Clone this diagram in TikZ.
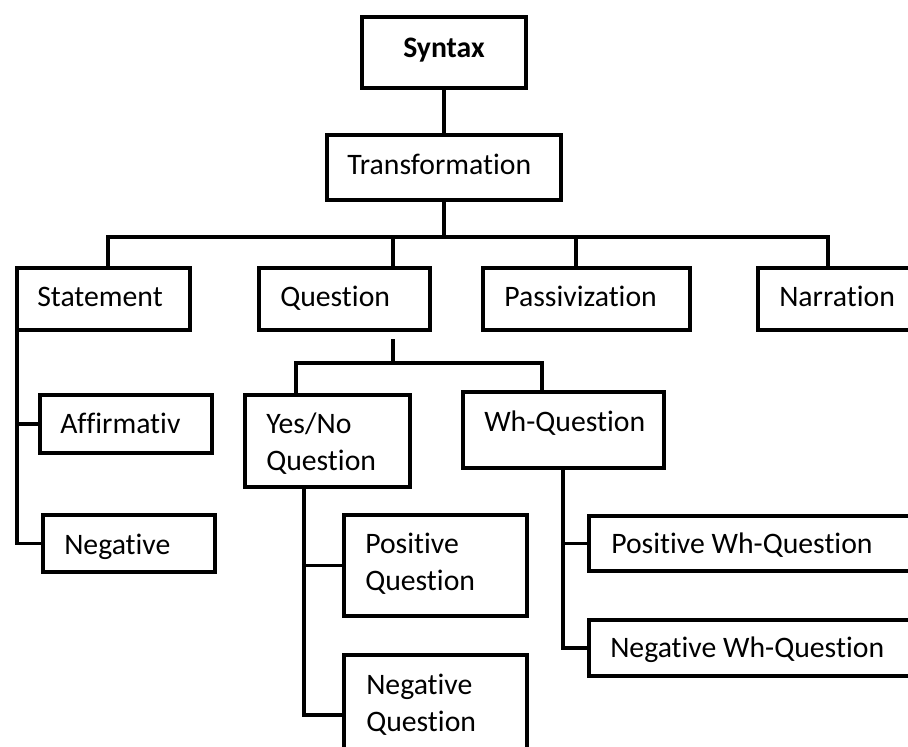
\documentclass[tikz,border=0pt]{standalone}
\usepackage{fontspec}
\setmainfont[Ligatures=NoCommon]{Carlito}
\usetikzlibrary{calc}

\begin{document}
\begin{tikzpicture}[x=0.75pt,y=-0.75pt]
		
		\tikzset{box/.style = {shape=rectangle,draw,line width=2.5pt,anchor=north west,inner sep=0pt,outer sep=0pt}}
		\tikzset{txt/.style = {anchor=base west,inner sep=0pt,align=left,font=\fontsize{22.3}{27.75}\selectfont}}
		\tikzset{link/.style = {line width=2.5pt}}
		
		\useasboundingbox (0,0) rectangle (908,747);
		
		% boxes
		\node[box, minimum width=123pt, minimum height=53.25pt] (syntax) at (362,17) {};
		\node[box, minimum width=175.5pt, minimum height=48.75pt] (transformation) at (327,135) {};
		\node[box, minimum width=129.75pt, minimum height=46.5pt] (statement) at (17,268) {};
		\node[box, minimum width=128.25pt, minimum height=46.5pt] (question) at (259,268) {};
		\node[box, minimum width=155.25pt, minimum height=46.5pt] (passivization) at (483,268) {};
		\node[box, minimum width=150pt, minimum height=46.5pt] (narration) at (758,268) {};
		\node[box, minimum width=129pt, minimum height=43.5pt] (affirmativ) at (40,395) {};
		\node[box, minimum width=129pt, minimum height=42.75pt] (negative) at (43,515) {};
		\node[box, minimum width=123.75pt, minimum height=69pt] (yesno) at (245,395) {};
		\node[box, minimum width=150.75pt, minimum height=57pt] (whq) at (463,392) {};
		\node[box, minimum width=137.25pt, minimum height=75.75pt] (posq) at (344,515) {};
		\node[box, minimum width=137.25pt, minimum height=90pt] (negq) at (344,655) {};
		\node[box, minimum width=300pt, minimum height=41.25pt] (poswh) at (589,516) {};
		\node[box, minimum width=300pt, minimum height=42pt] (negwh) at (589,620) {};
		
		% texts (two-line texts sit on their last line)
		\node[txt, anchor=base, font=\fontsize{22.3}{27.75}\selectfont\bfseries] (syntax-t) at ($(syntax.north)+(0,40)$) {Syntax};
		\node[txt] (transformation-t) at ($(transformation.north west)+(20,39)$) {Transformation};
		\node[txt] (statement-t) at ($(statement.north west)+(20,38)$) {Statement};
		\node[txt] (question-t) at ($(question.north west)+(21,38)$) {Question};
		\node[txt] (passivization-t) at ($(passivization.north west)+(21,38)$) {Passivization};
		\node[txt] (narration-t) at ($(narration.north west)+(21,38)$) {Narration};
		\node[txt] (affirmativ-t) at ($(affirmativ.north west)+(20,38)$) {Affirmativ};
		\node[txt] (negative-t) at ($(negative.north west)+(21,39)$) {Negative};
		\node[txt] (yesno-t) at ($(yesno.north west)+(21,75)$) {Yes/No\\Question};
		\node[txt] (whq-t) at ($(whq.north west)+(21,39)$) {Wh-Question};
		\node[txt] (posq-t) at ($(posq.north west)+(21,75)$) {Positive\\Question};
		\node[txt] (negq-t) at ($(negq.north west)+(22,76)$) {Negative\\Question};
		\node[txt] (poswh-t) at ($(poswh.north west)+(22,37)$) {Positive Wh-Question};
		\node[txt] (negwh-t) at ($(negwh.north west)+(21,37)$) {Negative Wh-Question};
		
		% junctions
		\coordinate (j1) at ($(transformation.south)+(0,37)$);
		\coordinate (s1) at ($(statement.north)+(4.5,0)$);
		\coordinate (s2) at ($(question.north)+(48.5,0)$);
		\coordinate (s3) at ($(passivization.north)+(-10.5,0)$);
		\coordinate (s4) at ($(narration.north west)+(70,0)$);
		\coordinate (q0) at ($(question.south)+(48.5,9)$);
		\coordinate (j2) at ($(q0)+(0,24)$);
		\coordinate (y1) at ($(yesno.north west)+(51,0)$);
		\coordinate (w1) at ($(whq.north west)+(79,0)$);
		\coordinate (y2) at ($(yesno.south west)+(59,0)$);
		\coordinate (w2) at ($(whq.south west)+(100,0)$);
		
		%edges
		\draw[link] (syntax) -- (transformation);
		\draw[link] (transformation) -- (j1);
		\draw[link] (s1) |- (j1) -| (s4);
		\draw[link] (s2) -- (s2 |- j1);
		\draw[link] (s3) -- (s3 |- j1);
		
		\draw[link] (statement.south west) |- (affirmativ.west);
		\draw[link] (statement.south west) |- (negative.west);
		
		\draw[link] (q0) -- (j2);
		\draw[link] (y1) |- (j2) -| (w1);
		
		\draw[link] (y2) |- (posq.west);
		\draw[link] (y2) |- (negq.west);
		
		\draw[link] (w2) |- (poswh.west);
		\draw[link] (w2) |- (negwh.west);
		
		\end{tikzpicture}
\end{document}
